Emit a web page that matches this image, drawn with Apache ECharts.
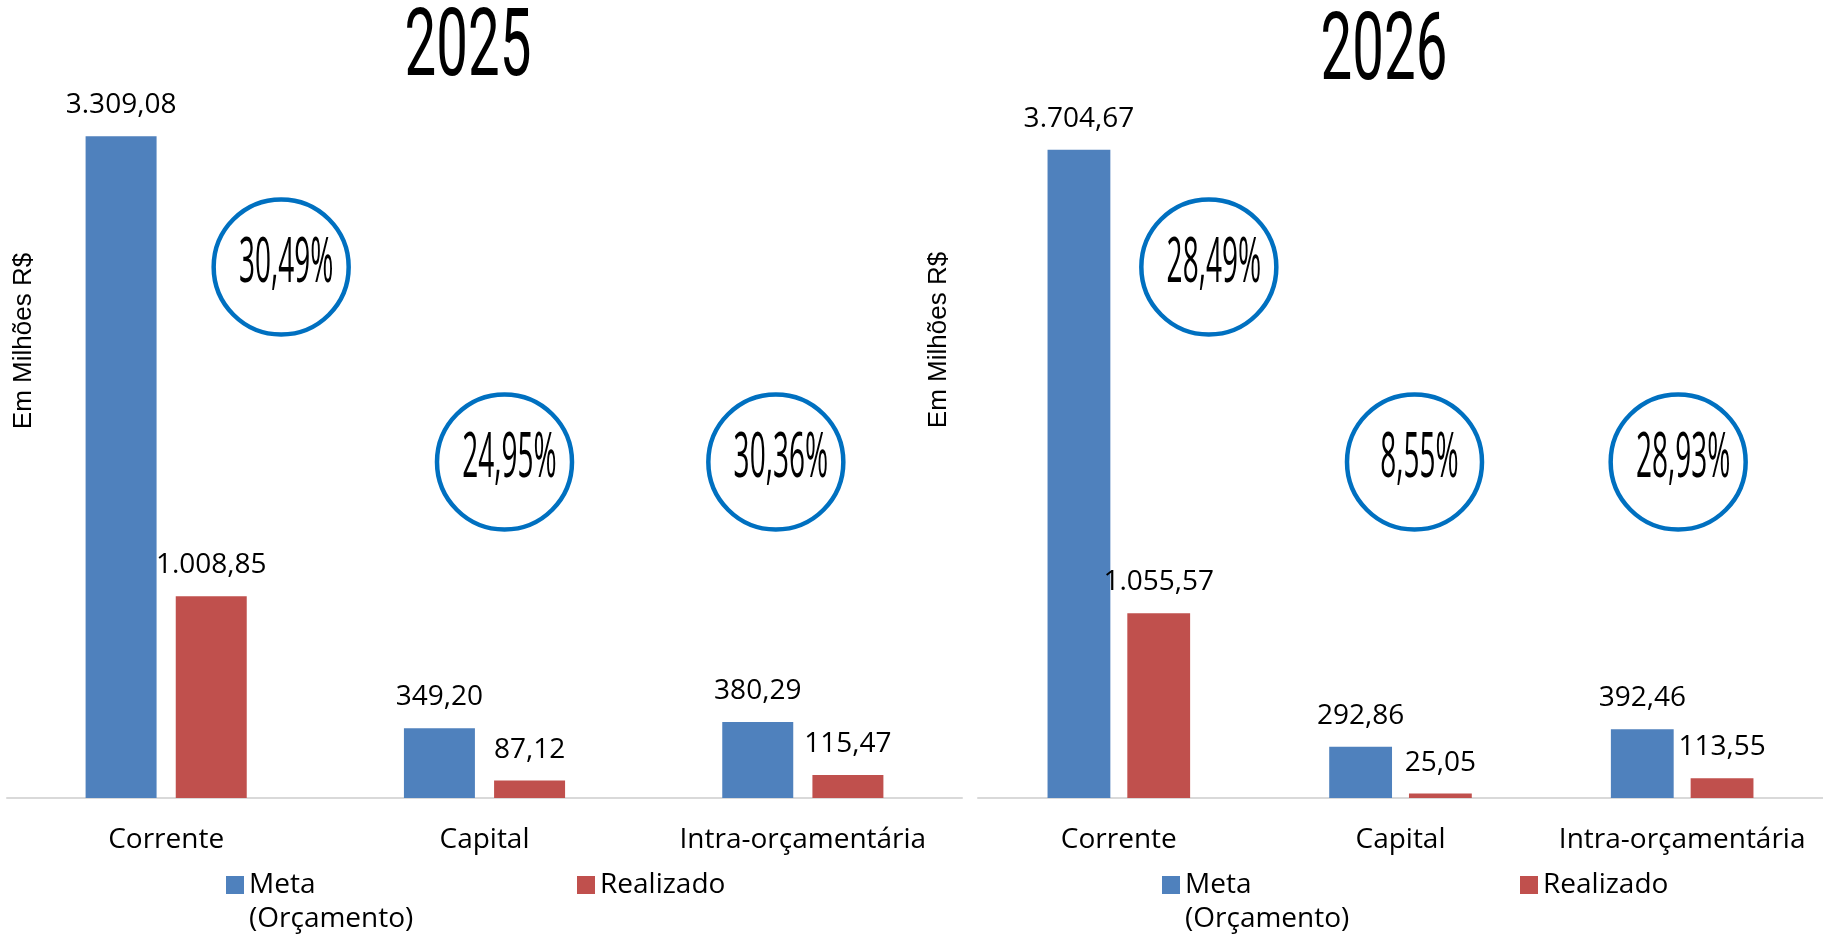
<!DOCTYPE html>
<html><head><meta charset="utf-8">
<script src="https://cdn.jsdelivr.net/npm/echarts@6/dist/echarts.min.js"></script>
<style>html,body{margin:0;padding:0;background:#fff}#c{width:1823px;height:937px}</style>
</head><body><div id="c"></div>
<script>
// ---- data ----
const categories = ['Corrente', 'Capital', 'Intra-orçamentária'];
const years = ['2025', '2026'];
const meta2025 = [3309.08, 349.20, 380.29];
const real2025 = [1008.85, 87.12, 115.47];
const meta2026 = [3704.67, 292.86, 392.46];
const real2026 = [1055.57, 25.05, 113.55];
const axisMax = [3500, 4000];
const seriesNames = ['Meta (Orçamento)', 'Realizado'];
const yAxisName = 'Em Milhões R$';

// ---- layout / style ----
const BLUE = '#4f81bd', RED = '#c0504d', RING = '#0070c0';
const FONT = "'Open Sans', 'Noto Sans', sans-serif";
const layout = [
  { grid: { left: 7, top: 98, width: 955, height: 700 }, titleX: 468, titleY: 51, nameX: 24, nameY: 341,
    legendX: [226, 577], ringDX: [115, 20, -27], ringY: [267, 462, 462] },
  { grid: { left: 978, top: 98, width: 860, height: 700 }, titleX: 1384, titleY: 55, nameX: 939, nameY: 340,
    legendX: [1162, 1520], ringDX: [90, 14, -4], ringY: [267, 462, 462] }
];
const LEGEND_TOP = 868;

function fmt(v) {
  const p = v.toFixed(2).split('.');
  return p[0].replace(/\B(?=(\d{3})+(?!\d))/g, '.') + ',' + p[1];
}
function pct(r, m) { return (r / m * 100).toFixed(2).replace('.', ',') + '%'; }

const metas = [meta2025, meta2026];
const reals = [real2025, real2026];

const chart = echarts.init(document.getElementById('c'), null, { renderer: 'canvas' });

const grids = [], xAxes = [], yAxes = [], series = [], legends = [];
layout.forEach((L, k) => {
  grids.push(Object.assign({ containLabel: false }, L.grid));
  xAxes.push({
    type: 'category', gridIndex: k, data: categories,
    axisLine: { lineStyle: { color: '#d9d9d9', width: 2 } },
    axisTick: { show: false },
    axisLabel: { interval: 0, margin: 28, color: '#000', fontFamily: FONT, fontSize: 28 }
  });
  yAxes.push({ type: 'value', gridIndex: k, min: 0, max: axisMax[k], show: false, splitLine: { show: false } });
  const lbl = { show: true, position: 'top', distance: 17, color: '#000', fontFamily: FONT, fontSize: 28,
    formatter: p => fmt(p.value) };
  series.push({ type: 'bar', name: seriesNames[0], xAxisIndex: k, yAxisIndex: k, data: metas[k],
    barWidth: '22.3%', barGap: '27%', itemStyle: { color: BLUE }, label: lbl });
  series.push({ type: 'bar', name: seriesNames[1], xAxisIndex: k, yAxisIndex: k, data: reals[k],
    barWidth: '22.3%', barGap: '27%', itemStyle: { color: RED }, label: lbl });
  legends.push({
    left: L.legendX[0], top: LEGEND_TOP, padding: 0, selectedMode: false,
    itemWidth: 18, itemHeight: 68,
    data: [{ name: seriesNames[0], icon: 'path://M0,0M0,68M0,8H18V26H0Z' }],
    formatter: n => n.replace(' ', '\n'),
    textStyle: { color: '#000', fontFamily: FONT, fontSize: 28, lineHeight: 34 }
  });
  legends.push({
    left: L.legendX[1], top: LEGEND_TOP, padding: 0, selectedMode: false,
    itemWidth: 18, itemHeight: 18,
    data: [{ name: seriesNames[1], icon: 'rect' }],
    textStyle: { color: '#000', fontFamily: FONT, fontSize: 28, lineHeight: 34 }
  });
});

chart.setOption({
  animation: false,
  backgroundColor: '#fff',
  grid: grids, xAxis: xAxes, yAxis: yAxes, series: series, legend: legends
});

// annotations: titles, axis names, ratio rings
const graphics = [];
layout.forEach((L, k) => {
  graphics.push({
    type: 'text', x: L.titleX, y: L.titleY, scaleX: 0.6,
    style: { text: years[k], align: 'center', verticalAlign: 'middle', fill: '#000',
      fontFamily: 'Roboto', fontWeight: 'normal', fontSize: 94 }
  });
  graphics.push({
    type: 'text', x: L.nameX, y: L.nameY, rotation: Math.PI / 2,
    style: { text: yAxisName, align: 'center', verticalAlign: 'middle', fill: '#000',
      fontFamily: "'Liberation Sans', Arial, sans-serif", fontSize: 26 }
  });
  categories.forEach((c, i) => {
    const cx = chart.convertToPixel({ xAxisIndex: k }, c) + L.ringDX[i];
    const cy = L.ringY[i];
    graphics.push({ type: 'circle', shape: { cx: cx, cy: cy, r: 67.5 },
      style: { fill: '#fff', stroke: RING, lineWidth: 4.5 } });
    graphics.push({
      type: 'text', x: cx + 5, y: cy - 3, scaleY: 2.2,
      style: { text: pct(reals[k][i], metas[k][i]), align: 'center', verticalAlign: 'middle', fill: '#000',
        fontFamily: FONT, fontSize: 28 }
    });
  });
});
chart.setOption({ graphic: graphics });
</script>
</body></html>
